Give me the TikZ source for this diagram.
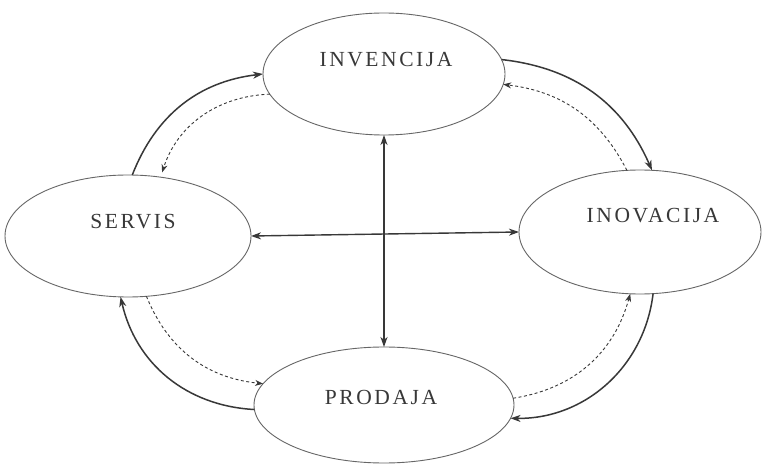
\documentclass[tikz,border=0pt]{standalone}
\usepackage{fontspec}
\setmainfont{Liberation Serif}
\newfontfamily\lblfont[LetterSpace=12]{Liberation Serif}
\usetikzlibrary{arrows.meta,shapes.geometric}
\definecolor{ellc}{HTML}{666666}
\definecolor{arrc}{HTML}{383838}
\definecolor{txtc}{HTML}{383838}
\begin{document}
\begin{tikzpicture}[x=1pt,y=-1pt,
  ell/.style={ellipse, draw=ellc, line width=0.9pt, inner sep=0pt, outer sep=0pt},
  lbl/.style={anchor=base, font=\lblfont\fontsize{21.5}{25}\selectfont, text=txtc, inner sep=0pt},
  solidarr/.style={draw=arrc, line width=1.5pt, -{Stealth[length=10pt,width=7pt,inset=3pt]}},
  dasharr/.style={draw=arrc, line width=0.9pt, dash pattern=on 3pt off 2.5pt, -{Stealth[length=8pt,width=6pt,inset=2.5pt]}},
  dblarr/.style={draw=arrc, line width=1.4pt, {Stealth[length=10pt,width=7pt,inset=3pt]}-{Stealth[length=10pt,width=7pt,inset=3pt]}}]
\fill[white] (0,0) rectangle (764,465);
\useasboundingbox (0,0) rectangle (764,465);
\node[ell, minimum width=242pt, minimum height=122pt] (inv) at (384,74) {};
\node[ell, minimum width=246pt, minimum height=122pt] (ser) at (128,236) {};
\node[ell, minimum width=242pt, minimum height=124pt] (ino) at (640,232) {};
\node[ell, minimum width=260pt, minimum height=116pt] (pro) at (384,405) {};
\node[lbl] (invt) at (386,67) {INVENCIJA};
\node[lbl] (sert) at (133,229) {SERVIS};
\node[lbl] (inot) at (653,223) {INOVACIJA};
\node[lbl] (prot) at (381,404) {PRODAJA};
\draw[solidarr] (ser.86) to[bend left=31] (inv.180);
\draw[dasharr, shorten >=5pt] (inv.190) to[bend right=35] (ser.61);
\draw[solidarr] (inv.7) to[bend left=30] (ino.79);
\draw[dasharr] (ino.102) to[bend right=28] (inv.355);
\draw[solidarr] (ino.282) to[bend left=42] (pro.354);
\draw[dasharr] (pro.3) to[bend right=33] (ino.261);
\draw[solidarr] (pro.182) to[bend left=37] (ser.263);
\draw[dasharr] (ser.287) to[bend right=31] (pro.170);
\draw[dblarr] (inv.south) -- (pro.north);
\draw[dblarr] (ser.east) -- (ino.west);
\end{tikzpicture}
\end{document}
